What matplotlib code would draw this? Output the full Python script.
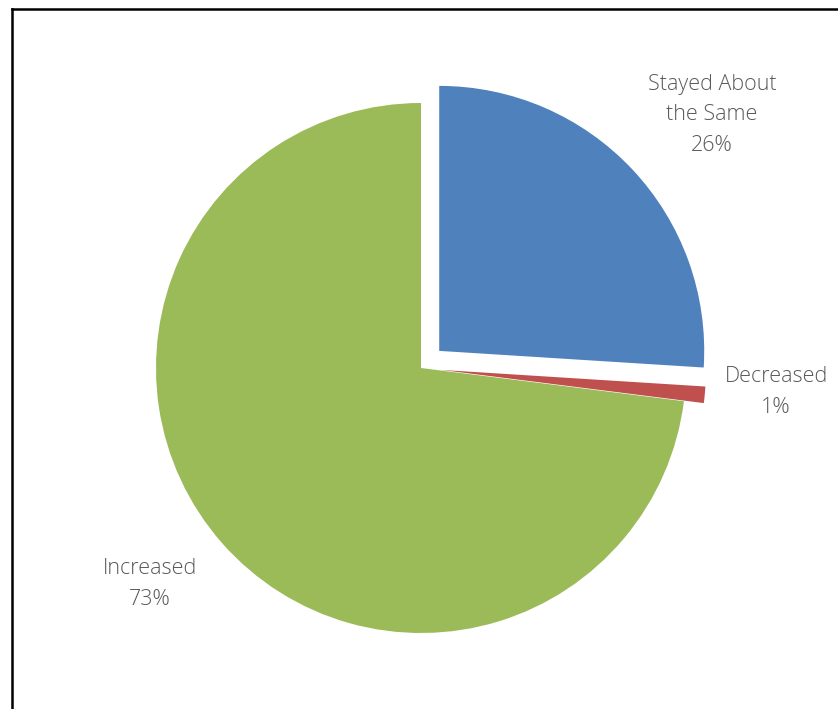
import matplotlib.pyplot as plt
from matplotlib.lines import Line2D

labels = ["Stayed About\nthe Same", "Decreased", "Increased"]
shares = [26, 1, 73]
colors = ["#4F81BD", "#C0504D", "#9BBB59"]

W, H = 838, 709
fig = plt.figure(figsize=(W / 100, H / 100), dpi=100)
ax = fig.add_axes([0, 0, 1, 1])

cx, cy, r = 421, H - 368, 265
# explode in pie() is an offset in data units (pixels here)
explode = [25, 20, 0]
wedges, _ = ax.pie(shares, colors=colors, explode=explode, startangle=90,
                   counterclock=False, center=(cx, cy), radius=r,
                   wedgeprops=dict(linewidth=0))

# pie() resets the limits, so set them afterwards
ax.set_xlim(0, W)
ax.set_ylim(0, H)
ax.set_aspect("equal")
ax.axis("off")

# data labels
label_pos = [(712, H - 115), (776, H - 392), (150, H - 584)]
for lab, val, (x, y) in zip(labels, shares, label_pos):
    ax.text(x, y, f"{lab}\n{val}%", ha="center", va="center", fontsize=15.5,
            family="Open Sans", fontweight="light", color="#595959",
            linespacing=1.6)

# chart frame (only left and top visible in the crop)
fig.add_artist(Line2D([12 / W, 12 / W], [0, 1 - 9 / H], color="black", lw=1.8,
                      transform=fig.transFigure))
fig.add_artist(Line2D([12 / W, 1], [1 - 9 / H, 1 - 9 / H], color="black", lw=1.8,
                      transform=fig.transFigure))

fig.savefig("out.png", dpi=100)
